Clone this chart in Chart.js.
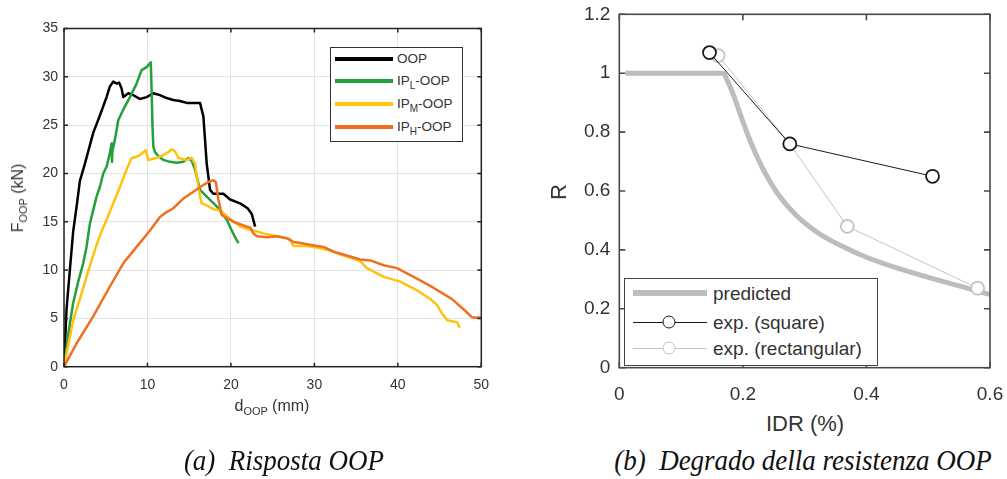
<!DOCTYPE html>
<html><head><meta charset="utf-8">
<script src="https://cdn.jsdelivr.net/npm/chart.js@4.4.1/dist/chart.umd.min.js"></script>
<style>
body{margin:0;background:#fff;width:1007px;height:479px;position:relative;overflow:hidden;font-family:"Liberation Sans",Arial,sans-serif;color:#333}
canvas{position:absolute;top:0}
.t{position:absolute;white-space:nowrap;transform:translate(-50%,-50%);line-height:1}
.sub{font-size:0.68em;position:relative;top:0.38em}
.lsub{font-size:0.74em;position:relative;top:0.4em}
.box{position:absolute;background:#fff;box-sizing:border-box}
.ln{position:absolute}
.lt{position:absolute;white-space:nowrap;transform:translateY(-50%);line-height:1}
.mk{position:absolute;border-radius:50%;background:#fff;box-sizing:border-box;transform:translate(-50%,-50%)}
.cap{position:absolute;white-space:nowrap;font-family:"Liberation Serif","Times New Roman",serif;font-style:italic;font-size:30px;color:#111;line-height:1}
</style></head>
<body>
<canvas id="c1" width="500" height="400" style="left:0"></canvas>
<canvas id="c2" width="507" height="400" style="left:500px"></canvas>

<!-- left chart texts -->
<div class="t" style="left:18px;top:198px;font-size:16px;transform:translate(-50%,-50%) rotate(-90deg)">F<span class="sub">OOP</span> (kN)</div>
<div class="t" style="left:272px;top:406px;font-size:16px">d<span class="sub">OOP</span> (mm)</div>
<div class="box" style="left:330px;top:47px;width:133px;height:95px;border:1px solid #333"></div>
<div class="ln" style="left:335px;top:57.3px;width:58px;height:3.5px;background:#000"></div>
<div class="lt" style="left:397px;top:59px;font-size:13.5px">OOP</div>
<div class="ln" style="left:335px;top:79.3px;width:58px;height:3.5px;background:#23a03a"></div>
<div class="lt" style="left:397px;top:81px;font-size:13.5px">IP<span class="lsub">L</span>-OOP</div>
<div class="ln" style="left:335px;top:102.3px;width:58px;height:3.5px;background:#ffc20e"></div>
<div class="lt" style="left:397px;top:104px;font-size:13.5px">IP<span class="lsub">M</span>-OOP</div>
<div class="ln" style="left:335px;top:125.3px;width:58px;height:3.5px;background:#ef7022"></div>
<div class="lt" style="left:397px;top:127px;font-size:13.5px">IP<span class="lsub">H</span>-OOP</div>

<!-- right chart texts -->
<div class="t" style="left:559px;top:192px;font-size:22px;transform:translate(-50%,-50%) rotate(-90deg)">R</div>
<div class="t" style="left:805px;top:424px;font-size:22px">IDR (%)</div>
<div class="box" style="left:624px;top:278px;width:254px;height:88px;border:1px solid #444"></div>
<div class="ln" style="left:633px;top:290px;width:74px;height:6px;background:#bdbdbd"></div>
<div class="lt" style="left:713px;top:293px;font-size:19px">predicted</div>
<div class="ln" style="left:633px;top:321.5px;width:74px;height:1px;background:#1a1a1a"></div>
<div class="mk" style="left:669px;top:322px;width:13px;height:13px;border:1.8px solid #1a1a1a"></div>
<div class="lt" style="left:713px;top:322px;font-size:19px">exp. (square)</div>
<div class="ln" style="left:633px;top:347.5px;width:74px;height:1px;background:#c4c4c4"></div>
<div class="mk" style="left:669px;top:348px;width:13px;height:13px;border:1.8px solid #c4c4c4"></div>
<div class="lt" style="left:713px;top:348px;font-size:19px">exp. (rectangular)</div>

<!-- captions -->
<div class="cap" style="left:284px;top:460px;transform:translate(-50%,-50%) scaleX(0.9)">(a)&nbsp; Risposta OOP</div>
<div class="cap" style="left:803px;top:460px;transform:translate(-50%,-50%) scaleX(0.9)">(b)&nbsp; Degrado della resistenza OOP</div>

<script>
// ---- left chart data: d_OOP (mm) vs F_OOP (kN)
const dOOP=[0,0.3,0.7,1.1,1.5,1.9,2.5,3.0,3.5,4.3,5.1,5.5,5.9,6.3,6.6,6.9,7.1,7.7,8.3,9.1,9.9,10.7,11.5,12.3,13.1,13.9,14.7,15.5,16.3,16.7,17.1,17.5,17.9,19.1,19.9,21.1,22.0,22.5,22.9];
const fOOP=[0,5.9,10.0,14.0,16.5,19.2,21.0,22.6,24.2,26.0,27.9,29.0,29.5,29.3,29.4,28.8,27.9,28.3,28.1,27.7,27.9,28.3,28.1,27.8,27.6,27.5,27.3,27.3,27.3,25.9,21.0,18.3,17.9,17.9,17.3,16.9,16.4,15.8,14.5];
const dIPL=[0,0.5,1.1,1.7,2.3,2.7,3.1,3.5,3.9,4.3,4.7,5.1,5.5,5.7,5.75,5.8,6.1,6.5,7.1,7.9,8.7,9.3,9.9,10.4,10.5,10.6,10.7,10.9,11.3,11.9,12.7,13.5,14.3,14.9,15.3,15.7,16.3,17.1,18.3,19.5,20.1,20.5,20.9];
const fIPL=[0,3.3,6.6,8.8,10.7,12.4,14.8,16.2,17.6,18.6,20.0,20.7,22.1,23.1,21.2,22.3,23.5,25.5,26.6,27.9,29.3,30.7,31.0,31.5,28.5,25.0,22.8,22.2,21.8,21.4,21.2,21.1,21.2,21.6,21.3,20.4,18.3,17.6,16.6,15.2,14.1,13.4,12.8];
const dIPM=[0,1.1,1.9,2.7,3.3,3.9,4.5,5.1,5.9,6.7,7.5,8.1,8.6,9.1,9.8,10.1,10.6,11.1,11.9,12.5,12.9,13.3,13.7,14.2,14.7,15.3,15.7,15.9,16.3,16.5,17.1,17.9,18.7,19.9,21.1,22.7,23.9,25.5,27.1,27.3,27.5,29.1,30.5,32.0,33.5,35.0,35.5,36.3,38.3,40.3,42.3,43.9,44.7,45.3,45.9,46.5,47.1,47.4];
const fIPM=[0,4.8,7.0,9.3,11.0,12.6,14.0,15.2,16.9,18.6,20.4,21.6,21.7,21.9,22.4,21.4,21.5,21.6,21.9,22.2,22.5,22.3,21.6,21.5,21.4,21.6,21.0,19.7,17.6,16.9,16.7,16.3,16.2,15.3,14.5,14.1,13.8,13.5,13.2,12.8,12.5,12.5,12.3,12.0,11.5,11.1,10.9,10.2,9.3,8.8,7.9,7.0,6.4,5.5,4.8,4.7,4.6,4.0];
const dIPH=[0,1.5,3.5,5.5,7.1,8.7,10.3,11.5,12.3,13.1,14.3,15.5,16.7,17.5,17.9,18.2,18.5,18.9,19.5,20.3,21.9,22.3,22.7,23.1,24.3,25.5,26.7,27.5,28.3,30.3,31.1,32.3,34.3,35.5,36.7,38.3,39.9,41.9,44.2,46.5,47.8,48.9,50];
const fIPH=[0,2.4,5.2,8.3,10.7,12.4,14.1,15.5,16.0,16.4,17.4,18.1,18.8,19.2,19.3,19.1,17.3,15.7,15.4,15.0,14.5,14.4,13.8,13.5,13.4,13.5,13.3,12.9,12.8,12.5,12.4,11.9,11.4,11.1,11.0,10.5,10.2,9.3,8.2,7.0,6.0,5.1,5.1];
const xTicksL=[0,10,20,30,40,50];
const xLabelsL=['0','10','20','30','40','50'];
const yTicksL=[0,5,10,15,20,25,30,35];
const yLabelsL=['0','5','10','15','20','25','30','35'];

// ---- right chart data: IDR (%) vs R
const predIDR=[0.01,0.168,0.175,0.185,0.195,0.210,0.230,0.255,0.285,0.320,0.360,0.400,0.450,0.500,0.550,0.600];
const predR=[1.0,1.0,0.975,0.925,0.865,0.780,0.685,0.595,0.520,0.460,0.413,0.375,0.338,0.307,0.278,0.248];
const sqIDR=[0.146,0.276,0.507];
const sqR=[1.07,0.76,0.65];
const rectIDR=[0.160,0.276,0.369,0.580];
const rectR=[1.06,0.76,0.48,0.27];
const xTicksR=[0,0.2,0.4,0.6];
const xLabelsR=['0','0.2','0.4','0.6'];
const yTicksR=[0,0.2,0.4,0.6,0.8,1.0,1.2];
const yLabelsR=['0','0.2','0.4','0.6','0.8','1','1.2'];

const pts=(xs,ys)=>xs.map((x,i)=>({x:x,y:ys[i]}));

const frameTicks={
  id:'frameTicks',
  afterDraw(chart,args,o){
    const ctx=chart.ctx,a=chart.chartArea,x=chart.scales.x,y=chart.scales.y;
    ctx.save();
    ctx.strokeStyle=o.color;ctx.lineWidth=o.width;
    ctx.beginPath();
    x.ticks.forEach(t=>{const p=x.getPixelForValue(t.value);
      ctx.moveTo(p,a.bottom);ctx.lineTo(p,a.bottom-o.len);
      ctx.moveTo(p,a.top);ctx.lineTo(p,a.top+o.len);});
    y.ticks.forEach(t=>{const p=y.getPixelForValue(t.value);
      ctx.moveTo(a.left,p);ctx.lineTo(a.left+o.len,p);
      ctx.moveTo(a.right,p);ctx.lineTo(a.right-o.len,p);});
    ctx.stroke();
    ctx.strokeRect(a.left,a.top,a.right-a.left,a.bottom-a.top);
    ctx.restore();
  }
};

function axis(ticksArr,labels,fit,pad,size,grid){
  return {
    type:'linear',min:ticksArr[0],max:ticksArr[ticksArr.length-1],
    afterBuildTicks:s=>{s.ticks=ticksArr.map(v=>({value:v}));},
    afterFit:s=>{fit(s);s.paddingLeft=0;s.paddingRight=0;s.paddingTop=0;s.paddingBottom=0;},
    grid:grid?{color:'#e4e4e4',drawTicks:false,lineWidth:1}:{display:false,drawTicks:false},
    border:{display:false},
    ticks:{padding:pad,autoSkip:false,maxRotation:0,color:'#333',font:{family:'Liberation Sans',size:size},
      callback:(v,i)=>labels[i]}
  };
}

new Chart(document.getElementById('c1'),{
  type:'line',
  data:{datasets:[
    {label:'IP_H-OOP',data:pts(dIPH,fIPH),borderColor:'#ef7022',borderWidth:2.5,pointRadius:0,order:0,borderJoinStyle:'round'},
    {label:'IP_M-OOP',data:pts(dIPM,fIPM),borderColor:'#ffc20e',borderWidth:2.5,pointRadius:0,order:1,borderJoinStyle:'round'},
    {label:'IP_L-OOP',data:pts(dIPL,fIPL),borderColor:'#23a03a',borderWidth:2.5,pointRadius:0,order:2,borderJoinStyle:'round'},
    {label:'OOP',data:pts(dOOP,fOOP),borderColor:'#000000',borderWidth:2.5,pointRadius:0,order:3,borderJoinStyle:'round'}
  ]},
  options:{
    responsive:false,animation:false,events:[],
    layout:{padding:{left:0,top:28.5,right:18.7,bottom:0}},
    plugins:{legend:{display:false},tooltip:{enabled:false},frameTicks:{color:'#222',width:1.5,len:4}},
    scales:{
      x:axis(xTicksL,xLabelsL,s=>{s.height=33.3;},10,14,true),
      y:axis(yTicksL,yLabelsL,s=>{s.width=64;},6,14,true)
    }
  },
  plugins:[frameTicks]
});

new Chart(document.getElementById('c2'),{
  type:'line',
  data:{datasets:[
    {label:'exp. (square)',data:pts(sqIDR,sqR),borderColor:'#1a1a1a',borderWidth:1,pointRadius:6.5,pointBorderWidth:1.8,pointBackgroundColor:'#fff',pointBorderColor:'#1a1a1a',order:0},
    {label:'exp. (rectangular)',data:pts(rectIDR,rectR),borderColor:'#c4c4c4',borderWidth:1,pointRadius:6.5,pointBorderWidth:1.8,pointBackgroundColor:'#fff',pointBorderColor:'#c4c4c4',order:1},
    {label:'predicted',data:pts(predIDR,predR),borderColor:'#bdbdbd',borderWidth:5,pointRadius:0,cubicInterpolationMode:'monotone',order:2}
  ]},
  options:{
    responsive:false,animation:false,events:[],
    layout:{padding:{left:0,top:14.3,right:17,bottom:0}},
    plugins:{legend:{display:false},tooltip:{enabled:false},frameTicks:{color:'#4a4a4a',width:1.6,len:6}},
    scales:{
      x:axis(xTicksR,xLabelsR,s=>{s.height=32.3;},16,19,false),
      y:axis(yTicksR,yLabelsR,s=>{s.width=119.3;},9,19,false)
    }
  },
  plugins:[frameTicks]
});
</script>
</body></html>
